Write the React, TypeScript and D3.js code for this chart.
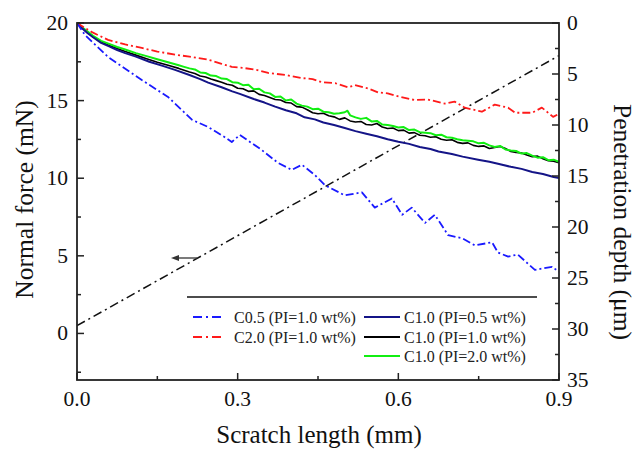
import React from "react";
import * as d3 from "d3";

const xTicks = [0, 0.3, 0.6, 0.9];
const xMinor = [0.15, 0.45, 0.75];
const yLeftTicks = [0, 5, 10, 15, 20];
const yLeftMinor = [-2.5, 2.5, 7.5, 12.5, 17.5];
const yRightTicks = [0, 5, 10, 15, 20, 25, 30, 35];
const yRightMinor = [2.5, 7.5, 12.5, 17.5, 22.5, 27.5, 32.5];

// Normal force ramp (left axis)
const forceRamp: [number, number][] = [[0, 0.5], [0.9, 17.9]];

// Penetration depth series (right axis)
const c05pi10: [number, number][] = [
  [0, 0], [0.015, 1.18], [0.058, 3.33], [0.121, 5.59], [0.17, 7.25], [0.215, 9.5], [0.245, 10.2],
  [0.276, 11.2], [0.289, 11.67], [0.304, 10.98], [0.345, 12.45], [0.375, 13.7], [0.401, 14.4],
  [0.42, 13.9], [0.444, 14.9], [0.463, 15.9], [0.5, 16.9], [0.532, 16.6], [0.556, 18.1],
  [0.588, 17.2], [0.607, 18.8], [0.625, 18.1], [0.65, 19.6], [0.668, 18.8], [0.693, 20.8],
  [0.719, 21.1], [0.743, 21.8], [0.775, 21.5], [0.786, 22.5], [0.805, 22.9], [0.823, 22.7],
  [0.855, 24.2], [0.887, 23.9], [0.9, 24.4],
];
const c20pi10: [number, number][] = [
  [0, 0], [0.028, 0.9], [0.058, 1.65], [0.09, 2.1], [0.121, 2.45], [0.15, 2.8], [0.183, 3.1],
  [0.21, 3.3], [0.245, 3.6], [0.27, 4.0], [0.289, 4.3], [0.31, 4.4], [0.335, 4.6], [0.357, 4.9],
  [0.39, 5.1], [0.42, 5.4], [0.44, 5.5], [0.457, 5.8], [0.482, 5.9], [0.506, 6.3], [0.519, 6.1],
  [0.543, 6.4], [0.562, 6.8], [0.58, 6.9], [0.6, 7.2], [0.63, 7.55], [0.655, 7.5], [0.687, 7.9],
  [0.705, 7.7], [0.724, 8.3], [0.756, 8.7], [0.78, 8.0], [0.805, 8.3], [0.818, 8.8], [0.85, 8.8],
  [0.868, 8.3], [0.889, 9.2], [0.9, 8.9],
];
const c10pi05: [number, number][] = [
  [0, 0], [0.01, 0.55], [0.02, 1.0], [0.03, 1.4], [0.045, 1.95], [0.06, 2.3], [0.075, 2.65],
  [0.09, 2.95], [0.11, 3.3], [0.135, 3.8], [0.16, 4.2], [0.183, 4.6], [0.21, 5.1], [0.23, 5.5],
  [0.245, 5.85], [0.27, 6.3], [0.29, 6.7], [0.304, 6.95], [0.33, 7.45], [0.35, 7.8], [0.37, 8.2],
  [0.39, 8.55], [0.41, 8.85], [0.425, 9.25], [0.444, 9.45], [0.46, 9.75], [0.48, 10.0], [0.5, 10.3],
  [0.52, 10.6], [0.54, 10.85], [0.56, 11.1], [0.58, 11.4], [0.6, 11.65], [0.62, 11.85], [0.64, 12.15],
  [0.66, 12.35], [0.675, 12.6], [0.7, 12.85], [0.72, 13.1], [0.749, 13.4], [0.77, 13.6], [0.79, 13.85],
  [0.81, 14.1], [0.83, 14.3], [0.85, 14.6], [0.87, 14.8], [0.89, 15.1], [0.9, 15.2],
];
const c10pi10: [number, number][] = [
  [0, 0], [0.01, 0.5], [0.02, 0.95], [0.03, 1.35], [0.045, 1.85], [0.06, 2.2], [0.075, 2.5], [0.09, 2.8],
  [0.11, 3.15], [0.13, 3.5], [0.15, 3.85], [0.17, 4.15], [0.19, 4.45], [0.21, 4.8], [0.22, 4.95],
  [0.23, 5.2], [0.24, 5.3], [0.25, 5.5], [0.26, 5.65], [0.27, 5.8], [0.28, 6.0], [0.29, 6.1], [0.3, 6.4],
  [0.31, 6.45], [0.32, 6.7], [0.33, 6.65], [0.34, 7.0], [0.35, 7.1], [0.36, 7.3], [0.37, 7.5], [0.38, 7.55],
  [0.39, 7.8], [0.4, 7.85], [0.41, 8.2], [0.42, 8.25], [0.43, 8.5], [0.44, 8.8], [0.45, 8.9], [0.46, 8.85],
  [0.47, 9.1], [0.48, 9.2], [0.49, 9.45], [0.5, 9.3], [0.51, 9.6], [0.52, 9.7], [0.53, 9.65], [0.54, 9.95],
  [0.55, 10.0], [0.56, 9.85], [0.57, 10.2], [0.58, 10.35], [0.59, 10.3], [0.6, 10.55], [0.61, 10.5],
  [0.62, 10.8], [0.63, 10.75], [0.64, 11.0], [0.65, 11.05], [0.66, 11.2], [0.67, 11.15], [0.68, 11.4],
  [0.69, 11.5], [0.7, 11.45], [0.71, 11.7], [0.72, 11.8], [0.73, 11.75], [0.74, 12.0], [0.75, 12.1],
  [0.76, 12.05], [0.77, 12.3], [0.78, 12.2], [0.79, 12.1], [0.8, 12.3], [0.81, 12.6], [0.82, 12.7],
  [0.83, 12.75], [0.84, 12.95], [0.85, 13.1], [0.86, 13.05], [0.87, 13.3], [0.88, 13.5], [0.89, 13.55],
  [0.9, 13.7],
];
const c10pi20: [number, number][] = [
  [0, 0], [0.01, 0.45], [0.02, 0.85], [0.03, 1.25], [0.045, 1.75], [0.06, 2.05], [0.075, 2.35], [0.09, 2.6],
  [0.11, 2.95], [0.13, 3.25], [0.15, 3.55], [0.17, 3.85], [0.19, 4.15], [0.2, 4.3], [0.21, 4.45],
  [0.22, 4.55], [0.23, 4.85], [0.24, 4.9], [0.25, 5.15], [0.26, 5.2], [0.27, 5.45], [0.28, 5.5],
  [0.29, 5.8], [0.3, 5.85], [0.31, 6.1], [0.32, 6.05], [0.33, 6.5], [0.34, 6.45], [0.35, 6.8], [0.36, 6.9],
  [0.37, 7.25], [0.38, 7.2], [0.39, 7.6], [0.4, 7.5], [0.41, 7.9], [0.42, 8.1], [0.43, 8.2], [0.44, 8.45],
  [0.45, 8.4], [0.46, 8.7], [0.47, 8.75], [0.48, 8.9], [0.49, 8.85], [0.5, 8.75], [0.505, 8.6], [0.51, 9.05],
  [0.52, 9.25], [0.53, 9.4], [0.54, 9.3], [0.55, 9.65], [0.56, 9.6], [0.57, 9.95], [0.58, 10.0],
  [0.59, 10.1], [0.6, 10.25], [0.61, 10.2], [0.62, 10.5], [0.63, 10.45], [0.64, 10.7], [0.65, 10.75],
  [0.66, 10.8], [0.67, 11.0], [0.68, 10.95], [0.69, 11.2], [0.7, 11.25], [0.71, 11.4], [0.72, 11.5],
  [0.73, 11.55], [0.74, 11.6], [0.75, 11.8], [0.76, 11.75], [0.77, 12.0], [0.78, 12.15], [0.79, 12.05],
  [0.8, 12.4], [0.81, 12.5], [0.82, 12.55], [0.83, 12.8], [0.84, 12.75], [0.85, 13.0], [0.86, 13.2],
  [0.87, 13.15], [0.88, 13.45], [0.89, 13.4], [0.9, 13.6],
];

const legendCol1 = ["C0.5 (PI=1.0 wt%)", "C2.0 (PI=1.0 wt%)"];
const legendCol2 = ["C1.0 (PI=0.5 wt%)", "C1.0 (PI=1.0 wt%)", "C1.0 (PI=2.0 wt%)"];

const FONT = "'Liberation Serif', 'Times New Roman', serif";
const AX = "#222";

export default function App() {
  const L = 77, R = 559, T = 23, B = 380;
  const x = d3.scaleLinear().domain([0, 0.9]).range([L, R]);
  const yL = d3.scaleLinear().domain([-3, 20]).range([B, T]);
  const yR = d3.scaleLinear().domain([0, 35]).range([T, B]);
  const lineL = d3.line<[number, number]>().x(d => x(d[0])).y(d => yL(d[1]));
  const lineR = d3.line<[number, number]>().x(d => x(d[0])).y(d => yR(d[1]));

  const series = [
    { data: c10pi10, color: "#000000", w: 1.6, dash: undefined },
    { data: c10pi20, color: "#11ee11", w: 2, dash: undefined },
    { data: c10pi05, color: "#141487", w: 2, dash: undefined },
    { data: c20pi10, color: "#ff1a1a", w: 1.8, dash: "8,3,2,3" },
    { data: c05pi10, color: "#1a1aff", w: 1.8, dash: "8,3,2,3" },
  ];

  const legendRows = [317, 337, 356];
  const legendColors1 = [{ c: "#1a1aff", dash: "9,4,2,4,9" }, { c: "#ff1a1a", dash: "9,4,2,4,9" }];
  const legendColors2 = ["#141487", "#000000", "#11ee11"];

  return (
    <svg width={638} height={450} style={{ position: "absolute", left: 0, top: 0, background: "#fff" }}
      fontFamily={FONT}>
      <defs>
        <clipPath id="plot"><rect x={L} y={T} width={R - L} height={B - T} /></clipPath>
      </defs>
      <g clipPath="url(#plot)">
        <path d={lineL(forceRamp) || ""} fill="none" stroke="#111" strokeWidth={1.5} strokeDasharray="9,4,2,4" />
        {series.map((s, i) => (
          <path key={i} d={lineR(s.data) || ""} fill="none" stroke={s.color} strokeWidth={s.w}
            strokeDasharray={s.dash} strokeLinejoin="round" />
        ))}
      </g>
      {/* arrow */}
      <line x1={197} y1={258} x2={176} y2={258} stroke="#333" strokeWidth={1.3} />
      <path d="M171,258 L179,255 L179,261 Z" fill="#333" />

      {/* frame */}
      <rect x={L} y={T} width={R - L} height={B - T} fill="none" stroke={AX} strokeWidth={1.8} />
      {/* bottom ticks */}
      {xTicks.map(t => <line key={"xt" + t} x1={x(t)} x2={x(t)} y1={B} y2={B - 7} stroke={AX} strokeWidth={1.5} />)}
      {xMinor.map(t => <line key={"xm" + t} x1={x(t)} x2={x(t)} y1={B} y2={B - 4} stroke={AX} strokeWidth={1.5} />)}
      {xTicks.map(t => (
        <text key={"xl" + t} x={x(t)} y={406} fontSize={21.5} textAnchor="middle" fill="#111">{t.toFixed(1)}</text>
      ))}
      {/* left ticks */}
      {yLeftTicks.map(t => <line key={"lt" + t} x1={L} x2={L + 7} y1={yL(t)} y2={yL(t)} stroke={AX} strokeWidth={1.5} />)}
      {yLeftMinor.map(t => <line key={"lm" + t} x1={L} x2={L + 4} y1={yL(t)} y2={yL(t)} stroke={AX} strokeWidth={1.5} />)}
      {yLeftTicks.map(t => (
        <text key={"ll" + t} x={68} y={yL(t) + 7} fontSize={21.5} textAnchor="end" fill="#111">{t}</text>
      ))}
      {/* right ticks */}
      {yRightTicks.map(t => <line key={"rt" + t} x1={R} x2={R - 7} y1={yR(t)} y2={yR(t)} stroke={AX} strokeWidth={1.5} />)}
      {yRightMinor.map(t => <line key={"rm" + t} x1={R} x2={R - 4} y1={yR(t)} y2={yR(t)} stroke={AX} strokeWidth={1.5} />)}
      {yRightTicks.map(t => (
        <text key={"rl" + t} x={567} y={yR(t) + 7} fontSize={21.5} textAnchor="start" fill="#111">{t}</text>
      ))}
      {/* axis titles */}
      <text x={319} y={443} fontSize={25} textAnchor="middle" fill="#111">Scratch length (mm)</text>
      <text transform={`translate(33,${(T + B) / 2 - 2}) rotate(-90)`} fontSize={25.5} textAnchor="middle" fill="#111">Normal force (mN)</text>
      <text transform={`translate(614,222) rotate(90)`} fontSize={25.5} textAnchor="middle" fill="#111">Penetration depth (μm)</text>

      {/* legend */}
      <line x1={187} x2={537} y1={297} y2={297} stroke="#111" strokeWidth={1.5} />
      {legendCol1.map((lab, i) => (
        <g key={"lg1" + i}>
          <line x1={193} x2={227} y1={legendRows[i]} y2={legendRows[i]} stroke={legendColors1[i].c}
            strokeWidth={1.8} strokeDasharray={legendColors1[i].dash} />
          <text x={234} y={legendRows[i] + 5.5} fontSize={16} fill="#222">{lab}</text>
        </g>
      ))}
      {legendCol2.map((lab, i) => (
        <g key={"lg2" + i}>
          <line x1={364} x2={400} y1={legendRows[i]} y2={legendRows[i]} stroke={legendColors2[i]} strokeWidth={1.8} />
          <text x={404} y={legendRows[i] + 5.5} fontSize={16} fill="#222">{lab}</text>
        </g>
      ))}
    </svg>
  );
}
